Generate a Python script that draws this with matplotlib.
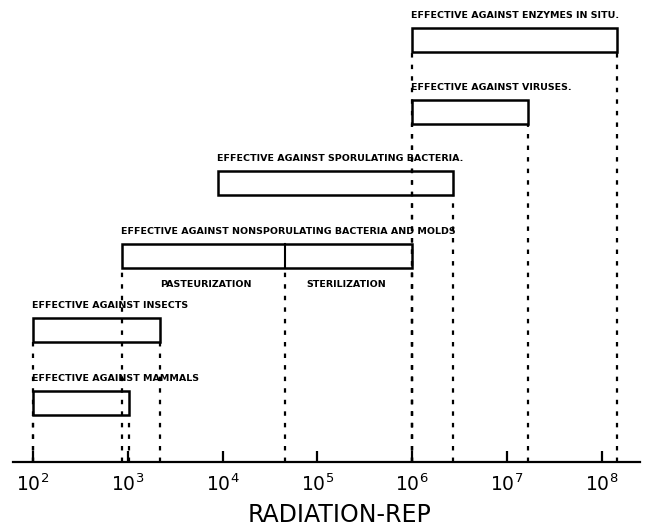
import numpy as np
import matplotlib
matplotlib.use("Agg")
import matplotlib.pyplot as plt
from matplotlib.patches import Rectangle

# radiation ranges (rep)
labels = [
    "EFFECTIVE AGAINST MAMMALS",
    "EFFECTIVE AGAINST INSECTS",
    "EFFECTIVE AGAINST NONSPORULATING BACTERIA AND MOLDS",
    "EFFECTIVE AGAINST SPORULATING BACTERIA.",
    "EFFECTIVE AGAINST VIRUSES.",
    "EFFECTIVE AGAINST ENZYMES IN SITU.",
]
low = [1e2, 1e2, 8.7e2, 8.9e3, 1e6, 1e6]
high = [1.03e3, 2.2e3, 1e6, 2.7e6, 1.65e7, 1.45e8]
split = 4.6e4  # pasteurization / sterilization boundary
sub_labels = ["PASTEURIZATION", "STERILIZATION"]
decades = [2, 3, 4, 5, 6, 7, 8]

# layout (pixels above the axis line)
row_y = [47, 120, 194, 267, 338, 410]
bar_h = 24
drop_left = [True, True, True, False, True, True]

fig = plt.figure(figsize=(6.46, 5.30), dpi=100)
ax = fig.add_axes([13 / 646, 68 / 530, 627 / 646, 462 / 530])
ax.set_xscale("log")
ax.set_xlim(10 ** 1.789, 10 ** 8.403)
ax.set_ylim(0, 462)

for i, lab in enumerate(labels):
    y0 = row_y[i]
    ax.add_patch(Rectangle((low[i], y0), high[i] - low[i], bar_h,
                           fill=False, ec="black", lw=1.8))
    ax.text(low[i] * 0.97, y0 + bar_h + 8, lab, fontsize=6.8,
            fontweight="bold", ha="left", va="bottom", color="black")
    edges = [high[i]] + ([low[i]] if drop_left[i] else [])
    for xe in edges:
        ax.plot([xe, xe], [0, y0], color="black", lw=1.6,
                ls=(0, (2, 3.2)))

# divider inside the nonsporulating bar
yn = row_y[2]
ax.plot([split, split], [yn, yn + bar_h], color="black", lw=1.5)
ax.plot([split, split], [0, yn], color="black", lw=1.6, ls=(0, (2, 3.2)))
ax.text(np.sqrt(low[2] * split) * 1.05, yn - 12, sub_labels[0], fontsize=6.8,
        fontweight="bold", ha="center", va="top")
ax.text(np.sqrt(split * high[2]) * 0.93, yn - 12, sub_labels[1], fontsize=6.8,
        fontweight="bold", ha="center", va="top")

for s in ["top", "left", "right"]:
    ax.spines[s].set_visible(False)
ax.spines["bottom"].set_linewidth(1.6)
ax.set_yticks([])
ax.set_xticks([10.0 ** d for d in decades])
ax.set_xticklabels([r"$10^{%d}$" % d for d in decades], fontsize=13.5)
ax.minorticks_off()
ax.tick_params(axis="x", direction="in", length=8, width=1.6, pad=8)

fig.text(340 / 646, 1 - 515 / 530, "RADIATION-REP", fontsize=17,
         ha="center", va="center")

fig.savefig("out.png", dpi=100)
